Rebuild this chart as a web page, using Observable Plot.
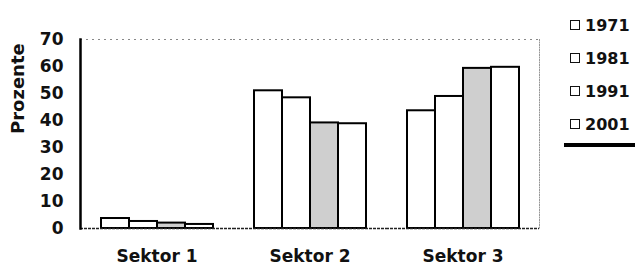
<!DOCTYPE html>
<html>
<head>
<meta charset="utf-8">
<script src="https://cdn.jsdelivr.net/npm/d3@7"></script>
<script src="https://cdn.jsdelivr.net/npm/@observablehq/plot@0.6"></script>
<style>
  html, body { margin: 0; padding: 0; background: #fff; }
  #wrap { position: relative; width: 635px; height: 265px; font-family: "DejaVu Sans", sans-serif; }
  #legend { position: absolute; left: 570px; top: 7px; }
  .item { position: relative; height: 33px; width: 65px; }
  .sw { position: absolute; left: 0; top: 13px; width: 7.5px; height: 7.5px; border: 1.5px solid #111; background: #fff; }
  .lab { position: absolute; left: 15px; top: 10px; font-size: 16px; font-weight: bold; color: #111; line-height: 18px; }
  #bar { position: absolute; left: 564px; top: 143px; width: 71px; height: 4px; background: #000; }
</style>
</head>
<body>
<div id="wrap"><div id="chart"></div><div id="legend"></div><div id="bar"></div></div>
<script>
const sectors = ["Sektor 1", "Sektor 2", "Sektor 3"];
const years = ["1971", "1981", "1991", "2001"];
const v1971 = [3.7, 51.0, 43.6];
const v1981 = [2.6, 48.4, 48.9];
const v1991 = [2.0, 39.1, 59.3];
const v2001 = [1.5, 38.8, 59.7];
const yTicks = [0, 10, 20, 30, 40, 50, 60, 70];

const series = [v1971, v1981, v1991, v2001];
const data = [];
sectors.forEach((s, i) => years.forEach((y, j) => data.push({sector: s, year: y, value: series[j][i]})));

const fills = {"1971": "#fff", "1981": "#fff", "1991": "#cfcfcf", "2001": "#fff"};

const chart = Plot.plot({
  width: 635,
  height: 265,
  marginLeft: 80,
  marginRight: 96,
  marginTop: 39,
  marginBottom: 37,
  style: {fontFamily: "DejaVu Sans", fontWeight: "bold", color: "#111", background: "#fff"},
  fx: {domain: sectors, padding: 0, label: null, axis: null},
  x: {domain: years, paddingInner: 0, paddingOuter: 0.71, axis: null},
  y: {domain: [0, 70], label: null, axis: null},
  marks: [
    Plot.frame({anchor: "top", stroke: "#888", strokeDasharray: "1,5"}),
    Plot.frame({anchor: "right", facetAnchor: "right", stroke: "#999", strokeDasharray: "1,1.5"}),
    Plot.barY(data, {fx: "sector", x: "year", y: "value", fill: d => fills[d.year], stroke: "#000", strokeWidth: 2}),
    Plot.ruleY([0], {stroke: "#222", strokeWidth: 1.5, strokeDasharray: "3,1"}),
    Plot.frame({anchor: "left", facetAnchor: "left", stroke: "#000", strokeWidth: 2.5}),
    Plot.axisY({ticks: yTicks, tickSize: 0, tickPadding: 17, fontSize: 17, label: null}),
    Plot.axisFx({anchor: "bottom", tickSize: 0, tickPadding: 21, fontSize: 17, label: null}),
    Plot.text(["Prozente"], {frameAnchor: "left", facetAnchor: "left", dx: -62, rotate: -90, fontSize: 18, fontWeight: "bold", fill: "#111"})
  ]
});
document.getElementById("chart").appendChild(chart);

const legend = document.getElementById("legend");
years.forEach(y => {
  const it = document.createElement("div");
  it.className = "item";
  it.innerHTML = `<div class="sw"></div><div class="lab">${y}</div>`;
  legend.appendChild(it);
});
</script>
</body>
</html>
